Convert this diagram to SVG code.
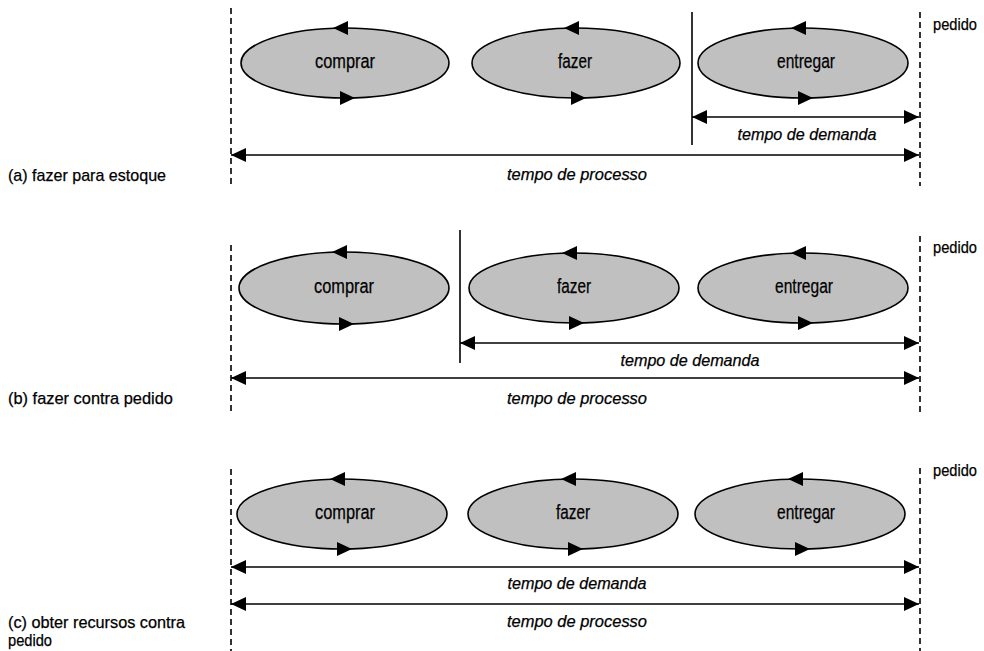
<svg xmlns="http://www.w3.org/2000/svg" xmlns:xlink="http://www.w3.org/1999/xlink" width="984" height="651" viewBox="0 0 984 651">
  <style>
    text { font-family: "Liberation Sans Narrow", "Liberation Sans", Arial, sans-serif; fill: #000; stroke: #000; stroke-width: 0.25; }
    .lbl { font-size: 17px; }
    .lbl2 { font-size: 16px; }
    .node text { font-size: 20px; text-anchor: middle; }
    .span { font-size: 17px; font-style: italic; text-anchor: middle; }
    .node ellipse { fill: #c0c0c0; stroke: #000; stroke-width: 1.6; }
    .dash { stroke: #000; stroke-width: 1.6; stroke-dasharray: 6 4; fill: none; }
    .bar { stroke: #000; stroke-width: 1.6; fill: none; }
    .dim { stroke: #000; stroke-width: 1.6; fill: none; marker-start: url(#tip); marker-end: url(#tip); }
  </style>
  <defs>
    <marker id="tip" viewBox="0 0 15 14" refX="15" refY="7" markerWidth="15" markerHeight="14" markerUnits="userSpaceOnUse" orient="auto-start-reverse">
      <path d="M0 0 L15 7 L0 14 Z" fill="#000"/>
    </marker>
    <!-- flow arrowheads drawn on each ellipse: top one runs left, bottom one runs right -->
    <path id="headL" d="M-12 0 L3 -7 L3 7 Z" fill="#000"/>
    <path id="headR" d="M10 0 L-5 -7 L-5 7 Z" fill="#000"/>
  </defs>

  <!-- (a) fazer para estoque -->
  <g id="section-a">
    <line class="dash" x1="231" y1="8" x2="231" y2="186"/>
    <line class="dash" x1="920" y1="12" x2="920" y2="186"/>
    <text class="lbl" x="933" y="30" textLength="44" lengthAdjust="spacingAndGlyphs">pedido</text>
    <text class="lbl" x="8" y="181" textLength="158" lengthAdjust="spacingAndGlyphs">(a) fazer para estoque</text>
    <g id="a-comprar" class="node">
      <ellipse cx="345" cy="63" rx="104" ry="35"/>
      <use xlink:href="#headL" x="345" y="28"/>
      <use xlink:href="#headR" x="345" y="98"/>
      <text x="345" y="68" textLength="60" lengthAdjust="spacingAndGlyphs">comprar</text>
    </g>
    <g id="a-fazer" class="node">
      <ellipse cx="576" cy="63" rx="104" ry="35"/>
      <use xlink:href="#headL" x="576" y="28"/>
      <use xlink:href="#headR" x="576" y="98"/>
      <text x="575" y="68" textLength="34" lengthAdjust="spacingAndGlyphs">fazer</text>
    </g>
    <g id="a-entregar" class="node">
      <ellipse cx="803" cy="63" rx="105" ry="35"/>
      <use xlink:href="#headL" x="803" y="28"/>
      <use xlink:href="#headR" x="803" y="98"/>
      <text x="806" y="68" textLength="58" lengthAdjust="spacingAndGlyphs">entregar</text>
    </g>
    <g id="a-connectors">
      <line class="bar" x1="692" y1="12" x2="692" y2="145"/>
      <line class="dim" x1="692" y1="117" x2="919" y2="117"/>
      <line class="dim" x1="231" y1="155" x2="919" y2="155"/>
    </g>
    <text class="span" x="807" y="140" textLength="139" lengthAdjust="spacingAndGlyphs">tempo de demanda</text>
    <text class="span" x="577" y="180" textLength="140" lengthAdjust="spacingAndGlyphs">tempo de processo</text>
  </g>

  <!-- (b) fazer contra pedido -->
  <g id="section-b">
    <line class="dash" x1="231" y1="245" x2="231" y2="412"/>
    <line class="dash" x1="920" y1="236" x2="920" y2="412"/>
    <text class="lbl" x="933" y="253" textLength="44" lengthAdjust="spacingAndGlyphs">pedido</text>
    <text class="lbl" x="8" y="404" textLength="165" lengthAdjust="spacingAndGlyphs">(b) fazer contra pedido</text>
    <g id="b-comprar" class="node">
      <ellipse cx="344" cy="288" rx="105" ry="36"/>
      <use xlink:href="#headL" x="344" y="252"/>
      <use xlink:href="#headR" x="344" y="324"/>
      <text x="344" y="293" textLength="60" lengthAdjust="spacingAndGlyphs">comprar</text>
    </g>
    <g id="b-fazer" class="node">
      <ellipse cx="574" cy="288" rx="105" ry="35"/>
      <use xlink:href="#headL" x="574" y="253"/>
      <use xlink:href="#headR" x="574" y="323"/>
      <text x="574" y="293" textLength="34" lengthAdjust="spacingAndGlyphs">fazer</text>
    </g>
    <g id="b-entregar" class="node">
      <ellipse cx="803" cy="288" rx="105" ry="35"/>
      <use xlink:href="#headL" x="803" y="253"/>
      <use xlink:href="#headR" x="803" y="323"/>
      <text x="804" y="293" textLength="58" lengthAdjust="spacingAndGlyphs">entregar</text>
    </g>
    <g id="b-connectors">
      <line class="bar" x1="460" y1="230" x2="460" y2="363"/>
      <line class="dim" x1="460" y1="343" x2="919" y2="343"/>
      <line class="dim" x1="231" y1="378" x2="919" y2="378"/>
    </g>
    <text class="span" x="690" y="366" textLength="139" lengthAdjust="spacingAndGlyphs">tempo de demanda</text>
    <text class="span" x="577" y="404" textLength="140" lengthAdjust="spacingAndGlyphs">tempo de processo</text>
  </g>

  <!-- (c) obter recursos contra pedido -->
  <g id="section-c">
    <line class="dash" x1="231" y1="469" x2="231" y2="651"/>
    <line class="dash" x1="920" y1="468" x2="920" y2="651"/>
    <text class="lbl" x="933" y="476" textLength="44" lengthAdjust="spacingAndGlyphs">pedido</text>
    <text class="lbl2" x="8" y="628" textLength="177" lengthAdjust="spacingAndGlyphs">(c) obter recursos contra</text>
    <text class="lbl2" x="8" y="646" textLength="44" lengthAdjust="spacingAndGlyphs">pedido</text>
    <g id="c-comprar" class="node">
      <ellipse cx="342" cy="514" rx="105" ry="35"/>
      <use xlink:href="#headL" x="342" y="479"/>
      <use xlink:href="#headR" x="342" y="549"/>
      <text x="345" y="519" textLength="60" lengthAdjust="spacingAndGlyphs">comprar</text>
    </g>
    <g id="c-fazer" class="node">
      <ellipse cx="573" cy="514" rx="105" ry="35"/>
      <use xlink:href="#headL" x="573" y="479"/>
      <use xlink:href="#headR" x="573" y="549"/>
      <text x="573" y="519" textLength="34" lengthAdjust="spacingAndGlyphs">fazer</text>
    </g>
    <g id="c-entregar" class="node">
      <ellipse cx="800" cy="514" rx="105" ry="35"/>
      <use xlink:href="#headL" x="800" y="479"/>
      <use xlink:href="#headR" x="800" y="549"/>
      <text x="806" y="519" textLength="58" lengthAdjust="spacingAndGlyphs">entregar</text>
    </g>
    <g id="c-connectors">
      <line class="dim" x1="231" y1="567" x2="919" y2="567"/>
      <line class="dim" x1="231" y1="604" x2="919" y2="604"/>
    </g>
    <text class="span" x="577" y="589" textLength="139" lengthAdjust="spacingAndGlyphs">tempo de demanda</text>
    <text class="span" x="577" y="627" textLength="140" lengthAdjust="spacingAndGlyphs">tempo de processo</text>
  </g>
</svg>
